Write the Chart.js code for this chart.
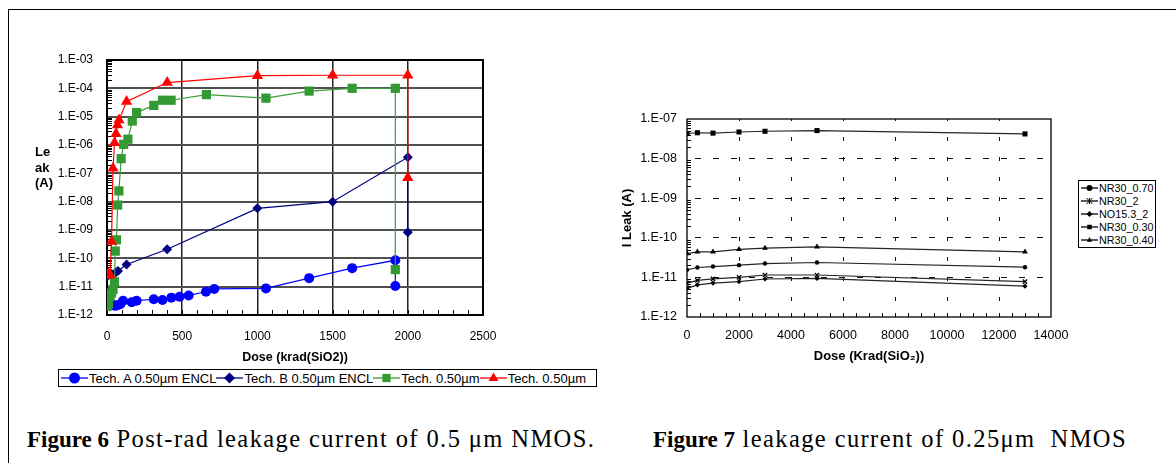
<!DOCTYPE html>
<html>
<head>
<meta charset="utf-8">
<script src="https://cdn.jsdelivr.net/npm/chart.js@4.4.1/dist/chart.umd.min.js"></script>
<style>
    body { margin: 0; width: 1176px; height: 463px; position: relative; overflow: hidden; background: #fff; font-family: Arial, "Liberation Sans", sans-serif; }
    #frame { position: absolute; left: 8px; top: 9px; width: 1300px; height: 600px; border-left: 1px solid #000; border-top: 1px solid #000; }
    #wrap6 { position: absolute; left: 0; top: 0; width: 600px; height: 369px; }
    #wrap7 { position: absolute; left: 600px; top: 0; width: 576px; height: 369px; }
    #ytitle6 { position: absolute; left: 35px; top: 144px; font-weight: bold; font-size: 13px; line-height: 15.5px; }
    .legend { position: absolute; border: 1px solid #000; background: #fff; color: #000; }
    #legend6 { left: 58px; top: 369px; width: 535px; height: 16px; display: flex; align-items: center; padding-left: 2px; font-size: 13px; white-space: nowrap; }
    #legend6 .item { display: flex; align-items: center; }
    #legend7 { left: 1078px; top: 180px; width: 76px; height: 65px; font-size: 10.8px; padding-top: 1px; }
    #legend7 .item { display: flex; align-items: center; height: 12.8px; padding-left: 2px; }
    .cap { position: absolute; top: 426px; font-family: "Times New Roman", "Liberation Serif", serif; font-size: 23px; line-height: 26px; white-space: nowrap; color: #000; }
    .cap span { font-size: 24.5px; letter-spacing: 1.4px; }
</style>
</head>
<body>
<div id="frame"></div>
<div id="wrap6"><canvas id="fig6"></canvas></div>
<div id="wrap7"><canvas id="fig7"></canvas></div>
<div id="ytitle6">Le<br>ak<br>(A)</div>
<div id="legend6" class="legend"></div>
<div id="legend7" class="legend"></div>
<div class="cap" style="left:27px"><b>Figure 6</b><span> Post-rad leakage current of 0.5 μm NMOS.</span></div>
<div class="cap" style="left:653px"><b>Figure 7</b><span> leakage current of 0.25μm&nbsp; NMOS</span></div>
<script>
// ---- Figure 6 data (dose in krad, leakage in A)
const techAX = [2, 20, 40, 55, 69, 88, 107, 164, 197, 311, 369, 428, 483, 543, 658, 713, 1057, 1344, 1630, 1917, 1917];
const techAY = [2.7e-12, 2.5e-12, 2.3e-12, 2.1e-12, 2.2e-12, 2.4e-12, 3.2e-12, 2.8e-12, 3.2e-12, 3.6e-12, 3.4e-12, 4.1e-12, 4.4e-12, 4.9e-12, 6.6e-12, 8.3e-12, 8.7e-12, 2.0e-11, 4.5e-11, 8.5e-11, 1.05e-11];
const techBX = [0, 30, 59, 73, 130, 400, 1000, 1500, 2000, 2000];
const techBY = [2.3e-11, 2.8e-11, 3.2e-11, 3.6e-11, 6.1e-11, 2.1e-10, 5.8e-9, 1.0e-8, 3.7e-7, 8.3e-10];
const greenX = [0, 10, 20, 30, 40, 50, 55, 63, 71, 79, 94, 111, 139, 168, 197, 311, 369, 426, 661, 1057, 1344, 1630, 1917, 1917];
const greenY = [2e-12, 2.5e-12, 4.5e-12, 6e-12, 8e-12, 1.5e-11, 1.8e-10, 4.5e-10, 7.6e-9, 2.4e-8, 3.3e-7, 1.05e-6, 1.6e-6, 7e-6, 1.4e-5, 2.5e-5, 3.8e-5, 3.8e-5, 6e-5, 4.5e-5, 8e-5, 1e-4, 1e-4, 4e-11];
const redX = [0, 10, 20, 30, 40, 50, 60, 70, 80, 130, 400, 1000, 1500, 2000, 2000];
const redY = [2.5e-11, 2.8e-11, 2.6e-11, 3.9e-10, 1.5e-7, 1.2e-6, 2.5e-6, 5.1e-6, 7.6e-6, 3.4e-5, 1.6e-4, 2.8e-4, 2.9e-4, 2.9e-4, 7e-8];
const fig6Labels = ['Tech. A 0.50µm ENCL', 'Tech. B 0.50µm ENCL', 'Tech. 0.50µm', 'Tech. 0.50µm'];
const fig6YTicks = [1e-12, 1e-11, 1e-10, 1e-9, 1e-8, 1e-7, 1e-6, 1e-5, 1e-4, 1e-3];

// ---- Figure 7 data
const doseX = [0, 400, 1000, 2000, 3000, 5000, 13000];
const nr30_070 = [1.55e-11, 1.78e-11, 1.88e-11, 2.04e-11, 2.24e-11, 2.38e-11, 1.81e-11];
const nr30_2 = [7.2e-12, 8.4e-12, 9.2e-12, 1.0e-11, 1.15e-11, 1.15e-11, 7.8e-12];
const no153_2 = [5.3e-12, 6.5e-12, 7.2e-12, 7.8e-12, 9.1e-12, 9.4e-12, 6.0e-12];
const nr30_030 = [4.3e-8, 4.5e-8, 4.4e-8, 4.7e-8, 4.9e-8, 5.1e-8, 4.2e-8];
const nr30_040 = [4.0e-11, 4.4e-11, 4.4e-11, 5.1e-11, 5.5e-11, 5.9e-11, 4.4e-11];
const fig7Labels = ['NR30_0.70', 'NR30_2', 'NO15.3_2', 'NR30_0.30', 'NR30_0.40'];
const fig7YTicks = [1e-12, 1e-11, 1e-10, 1e-9, 1e-8, 1e-7];

const sans = 'Arial, "Liberation Sans", sans-serif';

function pts(xs, ys) {
    return xs.map((x, i) => ({ x: x, y: ys[i] }));
}

function expLabel(v) {
    const e = Math.round(Math.log10(v));
    return '1.E' + (e < 0 ? '-' : '+') + String(Math.abs(e)).padStart(2, '0');
}

// frame round the plot area + small inner tick marks
const plotFrame = {
    id: 'plotFrame',
    beforeDatasetsDraw(chart, args, opts) {
        const { ctx, chartArea: a, scales: { x, y } } = chart;
        ctx.save();
        ctx.strokeStyle = '#000';
        ctx.lineWidth = 1;
        ctx.beginPath();
        const n = Math.round((x.max - x.min) / opts.xMinor);
        for (let i = 1; i < n; i++) {
            const px = Math.round(x.getPixelForValue(x.min + i * opts.xMinor)) + 0.5;
            ctx.moveTo(px, a.bottom);
            ctx.lineTo(px, a.bottom - opts.tickLen);
        }
        const e0 = Math.round(Math.log10(y.min));
        const e1 = Math.round(Math.log10(y.max));
        for (let e = e0; e < e1; e++) {
            for (let k = 2; k <= 9; k++) {
                const py = Math.round(y.getPixelForValue(k * Math.pow(10, e))) + 0.5;
                ctx.moveTo(a.left, py);
                ctx.lineTo(a.left + opts.tickLen, py);
            }
        }
        ctx.stroke();
        ctx.lineWidth = opts.borderWidth;
        ctx.strokeRect(a.left, a.top, a.right - a.left, a.bottom - a.top);
        ctx.restore();
    }
};

// ---------------- Figure 6
new Chart(document.getElementById('fig6'), {
    type: 'scatter',
    data: {
        datasets: [{
            label: fig6Labels[0],
            data: pts(techAX, techAY),
            showLine: true,
            borderColor: '#0000ff',
            backgroundColor: '#0000ff',
            borderWidth: 1.2,
            pointStyle: 'circle',
            pointRadius: 5,
            pointBorderWidth: 0,
            order: 3
        }, {
            label: fig6Labels[1],
            data: pts(techBX, techBY),
            showLine: true,
            borderColor: '#000080',
            backgroundColor: '#000080',
            borderWidth: 1.2,
            pointStyle: 'rectRot',
            pointRadius: 5,
            pointBorderWidth: 0,
            order: 2
        }, {
            label: fig6Labels[2],
            data: pts(greenX, greenY),
            showLine: true,
            borderColor: '#3c9d3c',
            backgroundColor: '#339933',
            borderWidth: 1.2,
            pointStyle: 'rect',
            pointRadius: 6.5,
            pointBorderWidth: 0,
            order: 1
        }, {
            label: fig6Labels[3],
            data: pts(redX, redY),
            showLine: true,
            borderColor: '#ff0000',
            backgroundColor: '#ff0000',
            borderWidth: 1.2,
            pointStyle: 'triangle',
            pointRadius: 6.5,
            pointBorderWidth: 0,
            order: 0
        }]
    },
    options: {
        responsive: true,
        maintainAspectRatio: false,
        animation: false,
        layout: {
            padding: { top: 60, right: 117, left: 0, bottom: 0 }
        },
        plugins: {
            legend: { display: false },
            tooltip: { enabled: false },
            plotFrame: { xMinor: 100, tickLen: 5, borderWidth: 2 }
        },
        scales: {
            x: {
                type: 'linear',
                min: 0,
                max: 2500,
                afterFit: s => { s.height = 54; },
                ticks: {
                    stepSize: 500,
                    maxRotation: 0,
                    padding: 14,
                    color: '#000',
                    font: { family: sans, size: 12 },
                    callback: v => String(v)
                },
                grid: {
                    drawTicks: false,
                    lineWidth: 1.5,
                    color: c => (c.index === 0 || c.tick.value === 2500) ? 'rgba(0,0,0,0)' : '#222'
                },
                border: { display: false },
                title: {
                    display: true,
                    text: 'Dose (krad(SiO2))',
                    color: '#000',
                    padding: { top: 4, bottom: 4 },
                    font: { family: sans, size: 12.5, weight: 'bold' }
                }
            },
            y: {
                type: 'logarithmic',
                min: 1e-12,
                max: 1e-3,
                afterFit: s => { s.width = 107; },
                afterBuildTicks: s => { s.ticks = fig6YTicks.map(v => ({ value: v })); },
                ticks: {
                    padding: 14,
                    color: '#000',
                    font: { family: sans, size: 12 },
                    callback: v => expLabel(v)
                },
                grid: {
                    drawTicks: false,
                    lineWidth: 2,
                    color: c => (c.index === 0 || c.index === fig6YTicks.length - 1) ? 'rgba(0,0,0,0)' : '#505050'
                },
                border: { display: false }
            }
        }
    },
    plugins: [plotFrame]
});

// ---------------- Figure 7
const fig7Series = [nr30_070, nr30_2, no153_2, nr30_030, nr30_040];
const fig7Styles = ['circle', 'crossRot', 'rectRot', 'rect', 'triangle'];
const fig7Radius = [2.2, 3, 2.6, 3.6, 3.4];

new Chart(document.getElementById('fig7'), {
    type: 'scatter',
    data: {
        datasets: fig7Series.map((ys, i) => ({
            label: fig7Labels[i],
            data: pts(doseX, ys),
            showLine: true,
            borderColor: '#262626',
            backgroundColor: '#000',
            borderWidth: 1.2,
            pointStyle: fig7Styles[i],
            pointRadius: fig7Radius[i],
            pointBorderColor: '#000',
            pointBorderWidth: fig7Styles[i] === 'crossRot' ? 1.3 : 0
        }))
    },
    options: {
        responsive: true,
        maintainAspectRatio: false,
        animation: false,
        layout: {
            padding: { top: 119, right: 125, left: 0, bottom: 0 }
        },
        plugins: {
            legend: { display: false },
            tooltip: { enabled: false },
            plotFrame: { xMinor: 500, tickLen: 4, borderWidth: 1.3 }
        },
        scales: {
            x: {
                type: 'linear',
                min: 0,
                max: 14000,
                afterFit: s => { s.height = 52; },
                ticks: {
                    stepSize: 2000,
                    maxRotation: 0,
                    padding: 11,
                    color: '#000',
                    font: { family: sans, size: 12.5 },
                    callback: v => String(v)
                },
                grid: {
                    drawTicks: false,
                    lineWidth: 1,
                    color: c => (c.index === 0 || c.tick.value === 14000) ? 'rgba(0,0,0,0)' : '#111'
                },
                border: { display: false, dash: [4, 16], dashOffset: 2 },
                title: {
                    display: true,
                    text: 'Dose (Krad(SiO₂))',
                    color: '#000',
                    padding: { top: 4, bottom: 5 },
                    font: { family: sans, size: 13, weight: 'bold' }
                }
            },
            y: {
                type: 'logarithmic',
                min: 1e-12,
                max: 1e-7,
                afterFit: s => { s.width = 87; },
                afterBuildTicks: s => { s.ticks = fig7YTicks.map(v => ({ value: v })); },
                ticks: {
                    padding: 10,
                    color: '#000',
                    font: { family: sans, size: 12.5 },
                    callback: v => expLabel(v)
                },
                grid: {
                    drawTicks: false,
                    lineWidth: 1,
                    color: c => (c.index === 0 || c.index === fig7YTicks.length - 1) ? 'rgba(0,0,0,0)' : '#111'
                },
                border: { display: false, dash: [6, 12], dashOffset: -8 },
                title: {
                    display: true,
                    text: 'I Leak (A)',
                    color: '#000',
                    padding: { top: 20, bottom: 0 },
                    font: { family: sans, size: 13, weight: 'bold' }
                }
            }
        }
    },
    plugins: [plotFrame]
});

// ---------------- legends (line with marker, then text)
function markerSvg(style, color, w, h, r) {
    const cx = w / 2, cy = h / 2;
    let m = '';
    if (style === 'circle') m = `<circle cx="${cx}" cy="${cy}" r="${r}" fill="${color}"/>`;
    if (style === 'rectRot') m = `<polygon points="${cx},${cy - r} ${cx + r},${cy} ${cx},${cy + r} ${cx - r},${cy}" fill="${color}"/>`;
    if (style === 'rect') m = `<rect x="${cx - r * 0.75}" y="${cy - r * 0.75}" width="${r * 1.5}" height="${r * 1.5}" fill="${color}"/>`;
    if (style === 'triangle') m = `<polygon points="${cx},${cy - r} ${cx + r * 0.9},${cy + r * 0.55} ${cx - r * 0.9},${cy + r * 0.55}" fill="${color}"/>`;
    if (style === 'crossRot') m = `<path d="M${cx - r} ${cy - r}L${cx + r} ${cy + r}M${cx + r} ${cy - r}L${cx - r} ${cy + r}M${cx} ${cy - r}L${cx} ${cy + r}" stroke="${color}" stroke-width="1"/>`;
    return `<svg width="${w}" height="${h}" style="display:block"><line x1="0" y1="${cy}" x2="${w}" y2="${cy}" stroke="${color}" stroke-width="1.3"/>${m}</svg>`;
}

const fig6Colors = ['#0000ff', '#000080', '#339933', '#ff0000'];
const fig6Styles = ['circle', 'rectRot', 'rect', 'triangle'];
document.getElementById('legend6').innerHTML = fig6Labels.map((t, i) =>
    `<span class="item">${markerSvg(fig6Styles[i], fig6Colors[i], 27, 16, 5.5)}<span style="margin-left:1px">${t}</span></span>`
).join('');

document.getElementById('legend7').innerHTML = fig7Labels.map((t, i) =>
    `<span class="item">${markerSvg(fig7Styles[i], '#000', 17, 10, 3)}<span style="margin-left:1px">${t}</span></span>`
).join('');
</script>
</body>
</html>
